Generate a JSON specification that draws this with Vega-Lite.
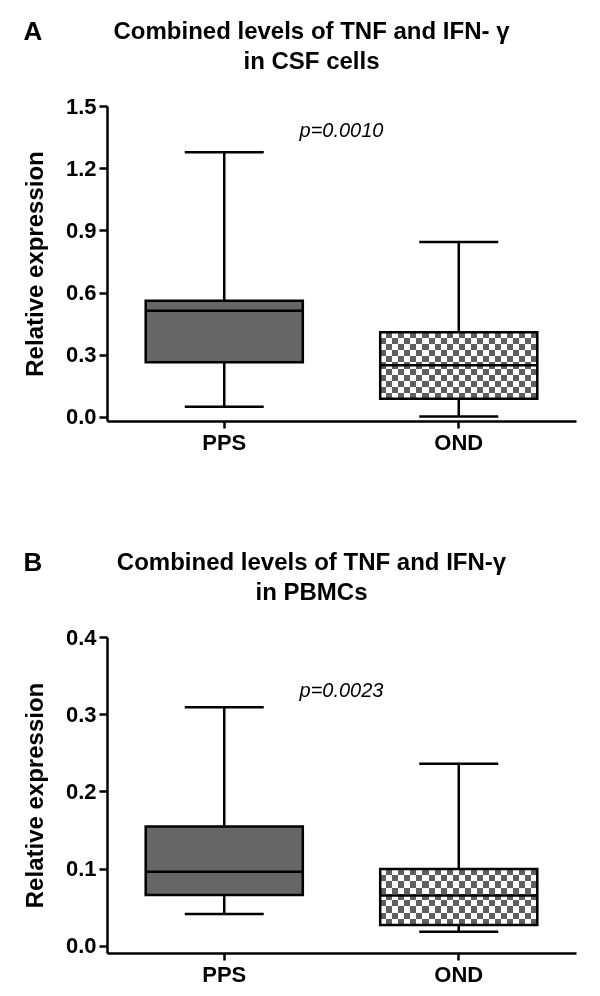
{
  "$schema": "https://vega.github.io/schema/vega-lite/v6.json",
  "padding": {"left": 23, "top": 19, "right": 5, "bottom": 5},
  "background": "white",
  "config": {
    "font": "Liberation Sans",
    "view": {"stroke": null},
    "axis": {"domainColor": "black", "domainWidth": 2.5, "tickColor": "black", "tickWidth": 2.5, "labelColor": "black", "labelFontWeight": "bold", "labelFontSize": 22, "titleFontSize": 24, "titleFontWeight": "bold", "titleColor": "black", "grid": false},
    "axisX": {"tickSize": 7, "labelPadding": 4},
    "axisY": {"tickSize": 8, "labelPadding": 3, "titlePadding": 18},
    "title": {"fontSize": 24, "fontWeight": "bold", "color": "black", "lineHeight": 30},
    "concat": {"spacing": 97}
  },
  "datasets": {
    "a": [
      {"group": "PPS", "min": 0.05, "q1": 0.264, "median": 0.513, "q3": 0.561, "max": 1.277},
      {"group": "OND", "min": 0.003, "q1": 0.088, "median": 0.249, "q3": 0.409, "max": 0.844}
    ],
    "b": [
      {"group": "PPS", "min": 0.0415, "q1": 0.066, "median": 0.096, "q3": 0.1546, "max": 0.309},
      {"group": "OND", "min": 0.0185, "q1": 0.0272, "median": 0.0652, "q3": 0.0998, "max": 0.236}
    ],
    "pa": [{"label": "p=0.0010"}],
    "pb": [{"label": "p=0.0023"}]
  },
  "vconcat": [
    {
      "title": {"text": "A", "anchor": "start", "offset": -25, "fontSize": 26},
      "vconcat": [
        {
          "title": {"text": ["Combined levels of TNF and IFN- γ", "in CSF cells"], "anchor": "middle", "dx": -30, "offset": 21},
          "width": 469,
          "height": 315,
          "data": {"name": "a"},
          "encoding": {
            "x": {"field": "group", "type": "nominal", "sort": ["PPS", "OND"], "scale": {"paddingInner": 0, "paddingOuter": 0}, "axis": {"title": null, "labelAngle": 0}}
          },
          "layer": [
            {
              "mark": {"type": "rule", "strokeWidth": 2.5, "color": "black"},
              "encoding": {
                "y": {"field": "min", "type": "quantitative", "title": "Relative expression", "scale": {"domain": [-0.0193, 1.5], "nice": false, "zero": false}, "axis": {"values": [0, 0.3, 0.6, 0.9, 1.2, 1.5], "format": ".1f"}},
                "y2": {"field": "q1"}
              }
            },
            {
              "mark": {"type": "rule", "strokeWidth": 2.5, "color": "black"},
              "encoding": {"y": {"field": "q3", "type": "quantitative"}, "y2": {"field": "max"}}
            },
            {
              "transform": [{"filter": "datum.group === 'PPS'"}],
              "mark": {"type": "bar", "fill": "#666666", "width": {"band": 0.67}},
              "encoding": {"y": {"field": "q1", "type": "quantitative"}, "y2": {"field": "q3"}}
            },
            {
              "transform": [{"filter": "datum.group === 'OND'"}],
              "mark": {"type": "bar", "width": {"band": 0.67}, "fill": {"gradient": "linear", "x1": 0, "y1": 0, "x2": 0, "y2": 1, "stops": [
                {"offset": 0, "color": "#fff"}, {"offset": 0.0909, "color": "#fff"}, {"offset": 0.0909, "color": "#000"}, {"offset": 0.1818, "color": "#000"},
                {"offset": 0.1818, "color": "#fff"}, {"offset": 0.2727, "color": "#fff"}, {"offset": 0.2727, "color": "#000"}, {"offset": 0.3636, "color": "#000"},
                {"offset": 0.3636, "color": "#fff"}, {"offset": 0.4545, "color": "#fff"}, {"offset": 0.4545, "color": "#000"}, {"offset": 0.5455, "color": "#000"},
                {"offset": 0.5455, "color": "#fff"}, {"offset": 0.6364, "color": "#fff"}, {"offset": 0.6364, "color": "#000"}, {"offset": 0.7273, "color": "#000"},
                {"offset": 0.7273, "color": "#fff"}, {"offset": 0.8182, "color": "#fff"}, {"offset": 0.8182, "color": "#000"}, {"offset": 0.9091, "color": "#000"},
                {"offset": 0.9091, "color": "#fff"}, {"offset": 1, "color": "#fff"}]}},
              "encoding": {"y": {"field": "q1", "type": "quantitative"}, "y2": {"field": "q3"}}
            },
            {
              "transform": [{"filter": "datum.group === 'OND'"}],
              "mark": {"type": "bar", "width": {"band": 0.67}, "blend": "difference", "fill": {"gradient": "linear", "x1": 0, "y1": 0, "x2": 1, "y2": 0, "stops": [
                {"offset": 0, "color": "#000"}, {"offset": 0.0385, "color": "#000"}, {"offset": 0.0385, "color": "#fff"}, {"offset": 0.0769, "color": "#fff"},
                {"offset": 0.0769, "color": "#000"}, {"offset": 0.1154, "color": "#000"}, {"offset": 0.1154, "color": "#fff"}, {"offset": 0.1538, "color": "#fff"},
                {"offset": 0.1538, "color": "#000"}, {"offset": 0.1923, "color": "#000"}, {"offset": 0.1923, "color": "#fff"}, {"offset": 0.2308, "color": "#fff"},
                {"offset": 0.2308, "color": "#000"}, {"offset": 0.2692, "color": "#000"}, {"offset": 0.2692, "color": "#fff"}, {"offset": 0.3077, "color": "#fff"},
                {"offset": 0.3077, "color": "#000"}, {"offset": 0.3462, "color": "#000"}, {"offset": 0.3462, "color": "#fff"}, {"offset": 0.3846, "color": "#fff"},
                {"offset": 0.3846, "color": "#000"}, {"offset": 0.4231, "color": "#000"}, {"offset": 0.4231, "color": "#fff"}, {"offset": 0.4615, "color": "#fff"},
                {"offset": 0.4615, "color": "#000"}, {"offset": 0.5, "color": "#000"}, {"offset": 0.5, "color": "#fff"}, {"offset": 0.5385, "color": "#fff"},
                {"offset": 0.5385, "color": "#000"}, {"offset": 0.5769, "color": "#000"}, {"offset": 0.5769, "color": "#fff"}, {"offset": 0.6154, "color": "#fff"},
                {"offset": 0.6154, "color": "#000"}, {"offset": 0.6538, "color": "#000"}, {"offset": 0.6538, "color": "#fff"}, {"offset": 0.6923, "color": "#fff"},
                {"offset": 0.6923, "color": "#000"}, {"offset": 0.7308, "color": "#000"}, {"offset": 0.7308, "color": "#fff"}, {"offset": 0.7692, "color": "#fff"},
                {"offset": 0.7692, "color": "#000"}, {"offset": 0.8077, "color": "#000"}, {"offset": 0.8077, "color": "#fff"}, {"offset": 0.8462, "color": "#fff"},
                {"offset": 0.8462, "color": "#000"}, {"offset": 0.8846, "color": "#000"}, {"offset": 0.8846, "color": "#fff"}, {"offset": 0.9231, "color": "#fff"},
                {"offset": 0.9231, "color": "#000"}, {"offset": 0.9615, "color": "#000"}, {"offset": 0.9615, "color": "#fff"}, {"offset": 1, "color": "#fff"}]}},
              "encoding": {"y": {"field": "q1", "type": "quantitative"}, "y2": {"field": "q3"}}
            },
            {
              "transform": [{"filter": "datum.group === 'OND'"}],
              "mark": {"type": "bar", "width": {"band": 0.67}, "blend": "lighten", "fill": "#5f5f5f"},
              "encoding": {"y": {"field": "q1", "type": "quantitative"}, "y2": {"field": "q3"}}
            },
            {
              "mark": {"type": "bar", "width": {"band": 0.67}, "fill": "transparent", "stroke": "black", "strokeWidth": 2.5},
              "encoding": {"y": {"field": "q1", "type": "quantitative"}, "y2": {"field": "q3"}}
            },
            {
              "mark": {"type": "tick", "size": 157, "thickness": 2.5, "color": "black", "opacity": 1},
              "encoding": {"y": {"field": "median", "type": "quantitative"}}
            },
            {
              "mark": {"type": "tick", "size": 79, "thickness": 2.5, "color": "black", "opacity": 1},
              "encoding": {"y": {"field": "min", "type": "quantitative"}}
            },
            {
              "mark": {"type": "tick", "size": 79, "thickness": 2.5, "color": "black", "opacity": 1},
              "encoding": {"y": {"field": "max", "type": "quantitative"}}
            },
            {
              "data": {"name": "pa"},
              "mark": {"type": "text", "fontStyle": "italic", "fontSize": 20, "color": "black", "align": "center", "baseline": "middle"},
              "encoding": {
                "x": {"datum": "PPS", "bandPosition": 1},
                "y": {"datum": 1.38, "type": "quantitative"},
                "text": {"field": "label"}
              }
            }
          ]
        }
      ]
    },
    {
      "title": {"text": "B", "anchor": "start", "offset": -25, "fontSize": 26},
      "vconcat": [
        {
          "title": {"text": ["Combined levels of TNF and IFN-γ", "in PBMCs"], "anchor": "middle", "dx": -30, "offset": 21},
          "width": 469,
          "height": 316,
          "data": {"name": "b"},
          "encoding": {
            "x": {"field": "group", "type": "nominal", "sort": ["PPS", "OND"], "scale": {"paddingInner": 0, "paddingOuter": 0}, "axis": {"title": null, "labelAngle": 0}}
          },
          "layer": [
            {
              "mark": {"type": "rule", "strokeWidth": 2.5, "color": "black"},
              "encoding": {
                "y": {"field": "min", "type": "quantitative", "title": "Relative expression", "scale": {"domain": [-0.0091, 0.4], "nice": false, "zero": false}, "axis": {"values": [0, 0.1, 0.2, 0.3, 0.4], "format": ".1f"}},
                "y2": {"field": "q1"}
              }
            },
            {
              "mark": {"type": "rule", "strokeWidth": 2.5, "color": "black"},
              "encoding": {"y": {"field": "q3", "type": "quantitative"}, "y2": {"field": "max"}}
            },
            {
              "transform": [{"filter": "datum.group === 'PPS'"}],
              "mark": {"type": "bar", "fill": "#666666", "width": {"band": 0.67}},
              "encoding": {"y": {"field": "q1", "type": "quantitative"}, "y2": {"field": "q3"}}
            },
            {
              "transform": [{"filter": "datum.group === 'OND'"}],
              "mark": {"type": "bar", "width": {"band": 0.67}, "fill": {"gradient": "linear", "x1": 0, "y1": 0, "x2": 0, "y2": 1, "stops": [
                {"offset": 0, "color": "#fff"}, {"offset": 0.1111, "color": "#fff"}, {"offset": 0.1111, "color": "#000"}, {"offset": 0.2222, "color": "#000"},
                {"offset": 0.2222, "color": "#fff"}, {"offset": 0.3333, "color": "#fff"}, {"offset": 0.3333, "color": "#000"}, {"offset": 0.4444, "color": "#000"},
                {"offset": 0.4444, "color": "#fff"}, {"offset": 0.5556, "color": "#fff"}, {"offset": 0.5556, "color": "#000"}, {"offset": 0.6667, "color": "#000"},
                {"offset": 0.6667, "color": "#fff"}, {"offset": 0.7778, "color": "#fff"}, {"offset": 0.7778, "color": "#000"}, {"offset": 0.8889, "color": "#000"},
                {"offset": 0.8889, "color": "#fff"}, {"offset": 1, "color": "#fff"}]}},
              "encoding": {"y": {"field": "q1", "type": "quantitative"}, "y2": {"field": "q3"}}
            },
            {
              "transform": [{"filter": "datum.group === 'OND'"}],
              "mark": {"type": "bar", "width": {"band": 0.67}, "blend": "difference", "fill": {"gradient": "linear", "x1": 0, "y1": 0, "x2": 1, "y2": 0, "stops": [
                {"offset": 0, "color": "#000"}, {"offset": 0.0385, "color": "#000"}, {"offset": 0.0385, "color": "#fff"}, {"offset": 0.0769, "color": "#fff"},
                {"offset": 0.0769, "color": "#000"}, {"offset": 0.1154, "color": "#000"}, {"offset": 0.1154, "color": "#fff"}, {"offset": 0.1538, "color": "#fff"},
                {"offset": 0.1538, "color": "#000"}, {"offset": 0.1923, "color": "#000"}, {"offset": 0.1923, "color": "#fff"}, {"offset": 0.2308, "color": "#fff"},
                {"offset": 0.2308, "color": "#000"}, {"offset": 0.2692, "color": "#000"}, {"offset": 0.2692, "color": "#fff"}, {"offset": 0.3077, "color": "#fff"},
                {"offset": 0.3077, "color": "#000"}, {"offset": 0.3462, "color": "#000"}, {"offset": 0.3462, "color": "#fff"}, {"offset": 0.3846, "color": "#fff"},
                {"offset": 0.3846, "color": "#000"}, {"offset": 0.4231, "color": "#000"}, {"offset": 0.4231, "color": "#fff"}, {"offset": 0.4615, "color": "#fff"},
                {"offset": 0.4615, "color": "#000"}, {"offset": 0.5, "color": "#000"}, {"offset": 0.5, "color": "#fff"}, {"offset": 0.5385, "color": "#fff"},
                {"offset": 0.5385, "color": "#000"}, {"offset": 0.5769, "color": "#000"}, {"offset": 0.5769, "color": "#fff"}, {"offset": 0.6154, "color": "#fff"},
                {"offset": 0.6154, "color": "#000"}, {"offset": 0.6538, "color": "#000"}, {"offset": 0.6538, "color": "#fff"}, {"offset": 0.6923, "color": "#fff"},
                {"offset": 0.6923, "color": "#000"}, {"offset": 0.7308, "color": "#000"}, {"offset": 0.7308, "color": "#fff"}, {"offset": 0.7692, "color": "#fff"},
                {"offset": 0.7692, "color": "#000"}, {"offset": 0.8077, "color": "#000"}, {"offset": 0.8077, "color": "#fff"}, {"offset": 0.8462, "color": "#fff"},
                {"offset": 0.8462, "color": "#000"}, {"offset": 0.8846, "color": "#000"}, {"offset": 0.8846, "color": "#fff"}, {"offset": 0.9231, "color": "#fff"},
                {"offset": 0.9231, "color": "#000"}, {"offset": 0.9615, "color": "#000"}, {"offset": 0.9615, "color": "#fff"}, {"offset": 1, "color": "#fff"}]}},
              "encoding": {"y": {"field": "q1", "type": "quantitative"}, "y2": {"field": "q3"}}
            },
            {
              "transform": [{"filter": "datum.group === 'OND'"}],
              "mark": {"type": "bar", "width": {"band": 0.67}, "blend": "lighten", "fill": "#5f5f5f"},
              "encoding": {"y": {"field": "q1", "type": "quantitative"}, "y2": {"field": "q3"}}
            },
            {
              "mark": {"type": "bar", "width": {"band": 0.67}, "fill": "transparent", "stroke": "black", "strokeWidth": 2.5},
              "encoding": {"y": {"field": "q1", "type": "quantitative"}, "y2": {"field": "q3"}}
            },
            {
              "mark": {"type": "tick", "size": 157, "thickness": 2.5, "color": "black", "opacity": 1},
              "encoding": {"y": {"field": "median", "type": "quantitative"}}
            },
            {
              "mark": {"type": "tick", "size": 79, "thickness": 2.5, "color": "black", "opacity": 1},
              "encoding": {"y": {"field": "min", "type": "quantitative"}}
            },
            {
              "mark": {"type": "tick", "size": 79, "thickness": 2.5, "color": "black", "opacity": 1},
              "encoding": {"y": {"field": "max", "type": "quantitative"}}
            },
            {
              "data": {"name": "pb"},
              "mark": {"type": "text", "fontStyle": "italic", "fontSize": 20, "color": "black", "align": "center", "baseline": "middle"},
              "encoding": {
                "x": {"datum": "PPS", "bandPosition": 1},
                "y": {"datum": 0.33, "type": "quantitative"},
                "text": {"field": "label"}
              }
            }
          ]
        }
      ]
    }
  ]
}
